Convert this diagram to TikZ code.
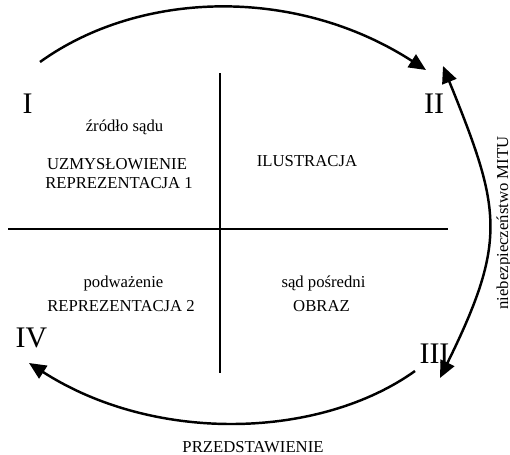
\documentclass[tikz,border=0pt]{standalone}
\usepackage{fontspec}
\setmainfont{Liberation Serif}
\usetikzlibrary{arrows.meta}

\begin{document}
\begin{tikzpicture}[x=0.02cm, y=0.02cm, font=\fontsize{9.5}{11}\selectfont,
    >={Triangle[length=0.34cm, width=0.3cm]},
    numeral/.style={anchor=base, inner sep=0pt, font=\fontsize{17}{20}\selectfont},
    caption/.style={anchor=base, inner sep=0pt},
    axisline/.style={line width=1.4pt},
    loopline/.style={line width=1.4pt, ->}]
  \useasboundingbox (0,0) rectangle (510,454);
  \draw[axisline] (8,225) -- (448,225);
  \draw[axisline] (220,381) -- (220,81);
  \foreach \lab/\x/\y/\id in {I/27.5/341/one, II/434/341/two,
                              III/434.5/91/three, IV/31.5/107/four}{%
    \node[numeral] (\id) at (\x,\y) {\lab};}
  \node[caption] (zrodlo) at (124.5,323) {źródło sądu};
  \node[caption] (uzmys) at (117,285) {UZMYSŁOWIENIE};
  \node[caption] (reprone) at (119,266) {REPREZENTACJA 1};
  \node[caption] (ilustr) at (307,288) {ILUSTRACJA};
  \node[caption] (podwaz) at (123.5,167) {podważenie};
  \node[caption] (reprtwo) at (121,143) {REPREZENTACJA 2};
  \node[caption] (sad) at (323.5,167) {sąd pośredni};
  \node[caption] (obraz) at (321.5,143) {OBRAZ};
  \node[caption] (przed) at (253,2) {PRZEDSTAWIENIE};
  \node[rotate=90, inner sep=0pt] (mitu) at (504,231) {niebezpieczeństwo MITU};
  \coordinate (topa) at (40,392);
  \coordinate (topb) at (426,384);
  \coordinate (righta) at (443,388);
  \coordinate (rightb) at (440,76);
  \coordinate (bota) at (415,83);
  \coordinate (botb) at (29,91);
  \draw[loopline] (topa) .. controls +(100,72) and +(-130,84) .. (topb);
  \draw[loopline, <->] (rightb) .. controls +(68,138) and +(58,-143) .. (righta);
  \draw[loopline] (bota) .. controls +(-95,-68) and +(126,-81) .. (botb);
\end{tikzpicture}
\end{document}
